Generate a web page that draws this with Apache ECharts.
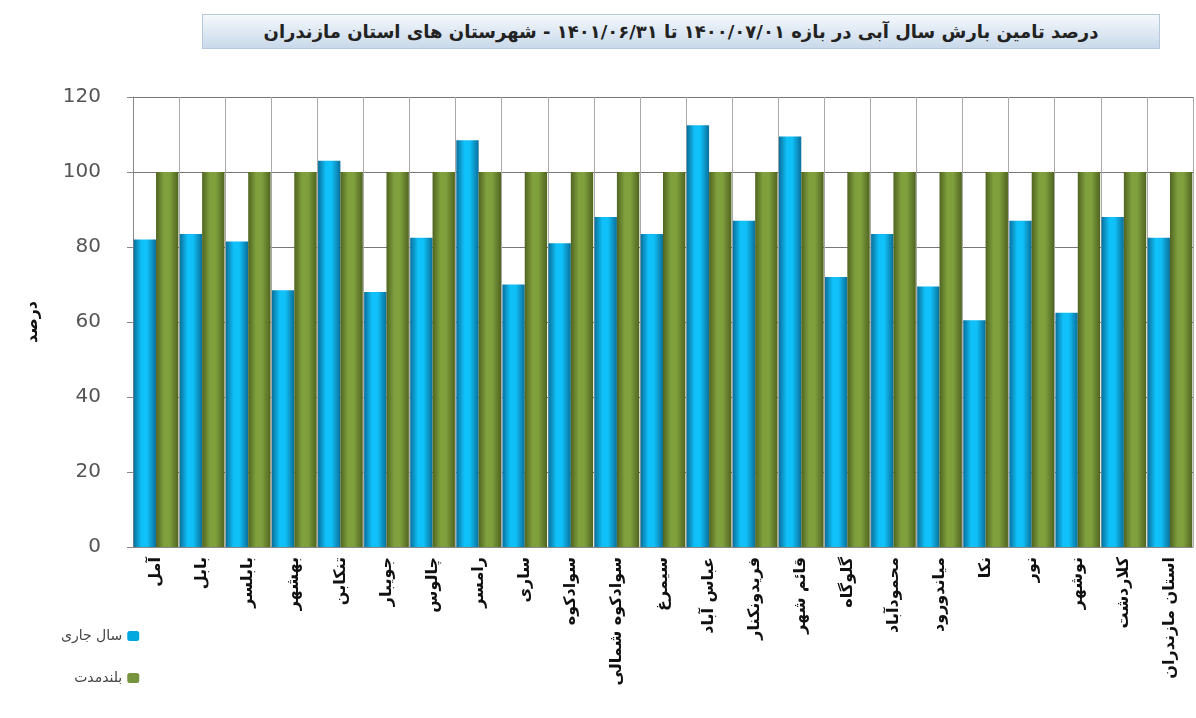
<!DOCTYPE html>
<html><head><meta charset="utf-8">
<script src="https://cdn.jsdelivr.net/npm/echarts@6/dist/echarts.min.js"></script>
<style>html,body{margin:0;padding:0;background:#fff}#c{width:1196px;height:718px}
#t{position:absolute;left:202px;top:14px;width:958px;height:35px;background:linear-gradient(#f4f8fc,#c9d9ea);border:1px solid #b8c8dc;box-sizing:border-box;font:bold 18px 'DejaVu Sans',sans-serif;color:#222;text-align:center;line-height:33px;direction:rtl}</style>
</head><body>
<div id="t">درصد تامین بارش سال آبی در بازه ۱۴۰۰/۰۷/۰۱ تا ۱۴۰۱/۰۶/۳۱ - شهرستان های استان مازندران</div>
<div id="c"></div>
<script>
const categories = ['آمل','بابل','بابلسر','بهشهر','تنکابن','جویبار','چالوس','رامسر','ساری','سوادکوه','سوادکوه شمالی','سیمرغ','عباس آباد','فریدونکنار','قائم شهر','گلوگاه','محمودآباد','میاندورود','نکا','نور','نوشهر','کلاردشت','استان مازندران'];
const currentYear = [82,83.5,81.5,68.5,103,68,82.5,108.5,70,81,88,83.5,112.5,87,109.5,72,83.5,69.5,60.5,87,62.5,88,82.5];
const longTerm = [100,100,100,100,100,100,100,100,100,100,100,100,100,100,100,100,100,100,100,100,100,100,100];
const seriesNames = ['سال جاری','بلندمدت'];
const yTicks = {min:0,max:120,interval:20};

function grad(edge, mid){
  return new echarts.graphic.LinearGradient(0,0,1,0,[
    {offset:0,color:edge},{offset:0.35,color:mid},{offset:0.6,color:mid},{offset:1,color:edge}]);
}
const chart = echarts.init(document.getElementById('c'));
chart.setOption({
  animation:false,
  textStyle:{fontFamily:'DejaVu Sans, sans-serif'},
  grid:{left:133,right:3,top:97,bottom:171},
  legend:{orient:'vertical',left:56,top:624,itemGap:28,align:'right',itemWidth:12,itemHeight:10,
    textStyle:{fontSize:14,color:'#444'},
    data:[{name:seriesNames[0],itemStyle:{color:'#00a8e0'}},{name:seriesNames[1],itemStyle:{color:'#77933c'}}]},
  xAxis:{type:'category',data:categories,
    axisLine:{lineStyle:{color:'#888'}},axisTick:{show:false},
    splitLine:{show:true,lineStyle:{color:'#aaa',width:1}},
    axisLabel:{rotate:90,interval:0,fontSize:16,color:'#111',fontWeight:'bold',margin:10}},
  yAxis:{type:'value',min:yTicks.min,max:yTicks.max,interval:yTicks.interval,
    name:'درصد',nameLocation:'middle',nameGap:92,nameRotate:90,
    nameTextStyle:{fontSize:16,fontWeight:'bold',color:'#111'},
    axisLine:{show:true,lineStyle:{color:'#888'}},axisTick:{show:true,length:6,lineStyle:{color:'#888'}},
    splitLine:{lineStyle:{color:'#777',width:1}},
    axisLabel:{fontSize:20,color:'#555',margin:32}},
  series:[
    {name:seriesNames[0],type:'bar',data:currentYear,barGap:'0%',barCategoryGap:'3%',
     itemStyle:{color:grad('#0a6f9a','#10c0f8')}},
    {name:seriesNames[1],type:'bar',data:longTerm,
     itemStyle:{color:grad('#4f6420','#80a03e')}}
  ]
});
</script></body></html>
